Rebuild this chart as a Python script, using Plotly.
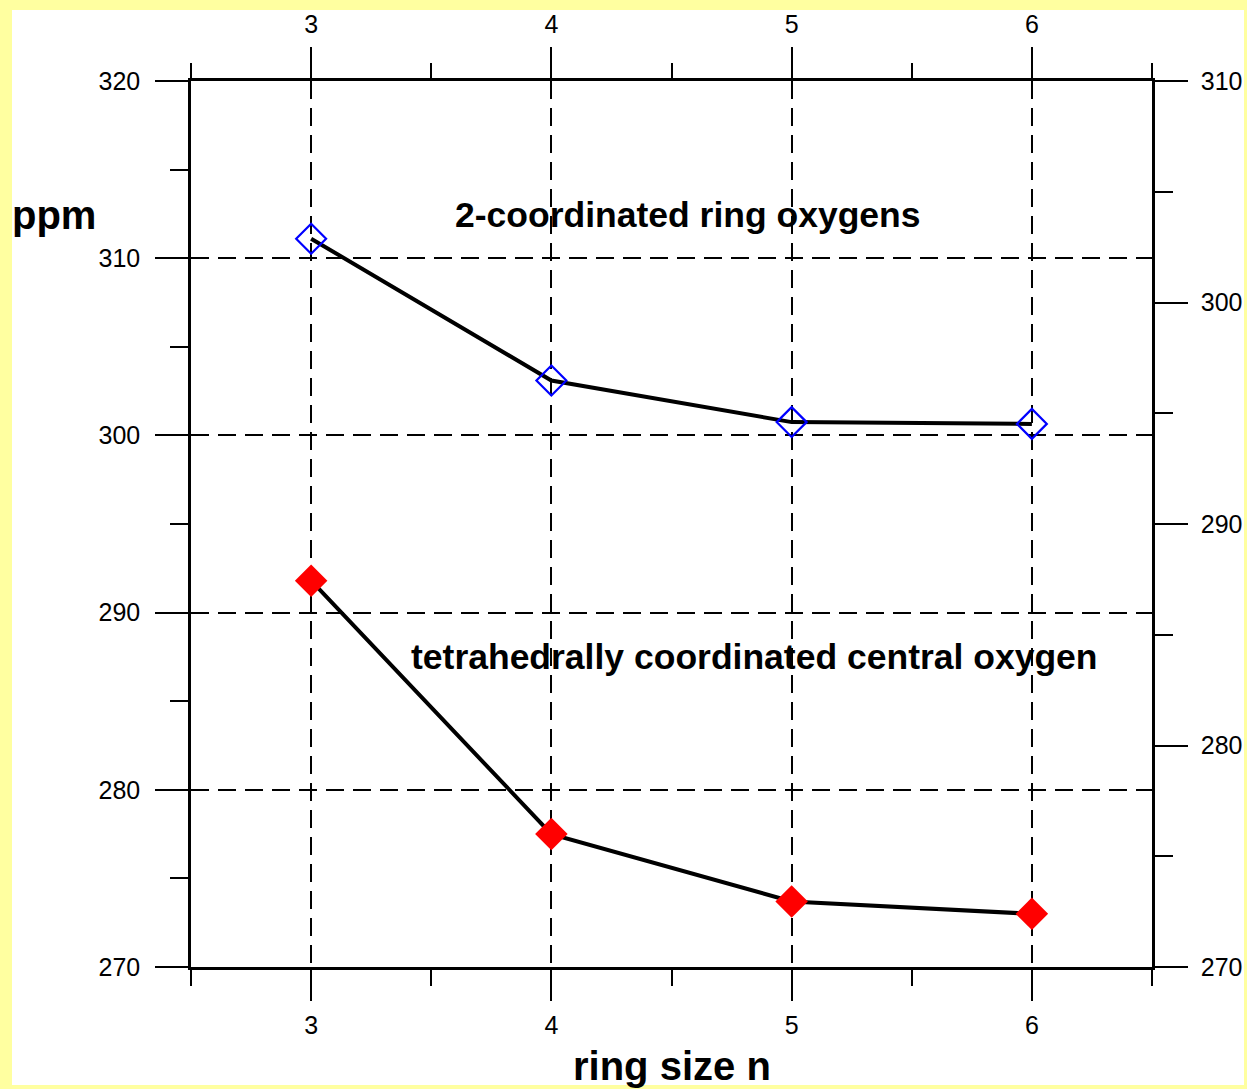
import plotly.graph_objects as go

ring_size = [3, 4, 5, 6]
ring_oxygens = [311.1, 303.1, 300.75, 300.65]
central_oxygen = [291.8, 277.5, 273.7, 273.0]

x_ticks = [3, 4, 5, 6]
x_minor = [2.5, 3.5, 4.5, 5.5, 6.5]
y_left_range = [270, 320]
y_right_range = [270, 310]
x_range = [2.5, 6.5]

FONT = "Liberation Sans, Arial, sans-serif"
W, H = 1247, 1089
L, R, T, B = 191, 95, 81, 122
pw, ph = W - L - R, H - T - B

fig = go.Figure()
fig.add_trace(go.Scatter(
    x=ring_size, y=ring_oxygens, mode="lines+markers",
    line=dict(color="black", width=4),
    marker=dict(symbol="diamond-open", size=23, color="blue", line=dict(width=2.2, color="blue")),
    showlegend=False, cliponaxis=False))
fig.add_trace(go.Scatter(
    x=ring_size, y=central_oxygen, mode="lines+markers",
    line=dict(color="black", width=4),
    marker=dict(symbol="diamond", size=25, color="red", line=dict(width=0)),
    showlegend=False, cliponaxis=False))
# invisible helper traces so the top and right axes get drawn
fig.add_trace(go.Scatter(x=x_range, y=y_left_range, xaxis="x2", yaxis="y", mode="markers",
                         marker=dict(opacity=0), hoverinfo="skip", showlegend=False))
fig.add_trace(go.Scatter(x=x_range, y=y_right_range, xaxis="x", yaxis="y2", mode="markers",
                         marker=dict(opacity=0), hoverinfo="skip", showlegend=False))

tick_font = dict(family=FONT, size=25, color="black")
common_line = dict(showline=True, linecolor="black", linewidth=2.5, zeroline=False,
                   ticks="outside", tickcolor="black", tickwidth=2, automargin=False)

fig.update_layout(
    width=W, height=H, autosize=False,
    margin=dict(l=L, r=R, t=T, b=B, pad=0, autoexpand=False),
    paper_bgcolor="#FFFFA0", plot_bgcolor="white",
    xaxis=dict(range=x_range, tickvals=x_ticks, ticklen=31, tickfont=tick_font,
               showgrid=True, gridcolor="black", gridwidth=1.6, griddash="18px,9px",
               minor=dict(tickvals=x_minor, ticks="outside", ticklen=16, tickcolor="black",
                          tickwidth=2, showgrid=False),
               ticklabelstandoff=3, **common_line),
    xaxis2=dict(range=x_range, tickvals=x_ticks, ticklen=31, tickfont=tick_font,
                overlaying="x", side="top", anchor="y", showgrid=False,
                minor=dict(tickvals=x_minor, ticks="outside", ticklen=15, tickcolor="black",
                           tickwidth=2, showgrid=False),
                ticklabelstandoff=4, **common_line),
    yaxis=dict(range=y_left_range, dtick=10, tick0=270, ticklen=33, tickfont=tick_font,
               showgrid=True, gridcolor="black", gridwidth=1.6, griddash="18px,9px",
               minor=dict(dtick=5, tick0=270, ticks="outside", ticklen=18, tickcolor="black",
                          tickwidth=2, showgrid=False),
               ticklabelstandoff=10, **common_line),
    yaxis2=dict(range=y_right_range, dtick=10, tick0=270, ticklen=33, tickfont=tick_font,
                overlaying="y", side="right", anchor="x", showgrid=False,
                minor=dict(dtick=5, tick0=270, ticks="outside", ticklen=18, tickcolor="black",
                           tickwidth=2, showgrid=False),
                ticklabelstandoff=8, **common_line),
    shapes=[dict(type="rect", xref="paper", yref="paper", layer="below",
                 x0=(12 - L) / pw, x1=(1244 - L) / pw,
                 y0=(H - B - 1085) / ph, y1=(H - B - 10) / ph,
                 fillcolor="white", line=dict(width=0))],
    annotations=[
        dict(text="<b>2-coordinated ring oxygens</b>", x=(688 - L) / pw, y=(H - B - 215) / ph,
             xref="paper", yref="paper", xanchor="center", yanchor="middle",
             showarrow=False, font=dict(family=FONT, size=35.5, color="black")),
        dict(text="<b>tetrahedrally coordinated central oxygen</b>", x=(754 - L) / pw,
             y=(H - B - 657) / ph, xref="paper", yref="paper", xanchor="center", yanchor="middle",
             showarrow=False, font=dict(family=FONT, size=35.5, color="black")),
        dict(text="<b>ppm</b>", x=(10 - L) / pw, y=(H - B - 215) / ph, xref="paper", yref="paper",
             xanchor="left", yanchor="middle", showarrow=False,
             font=dict(family=FONT, size=40, color="black")),
        dict(text="<b>ring size n</b>", x=0.5, y=(H - B - 1066) / ph, xref="paper", yref="paper",
             xanchor="center", yanchor="middle", showarrow=False,
             font=dict(family=FONT, size=40, color="black")),
    ],
)

fig.write_html("out.html")
